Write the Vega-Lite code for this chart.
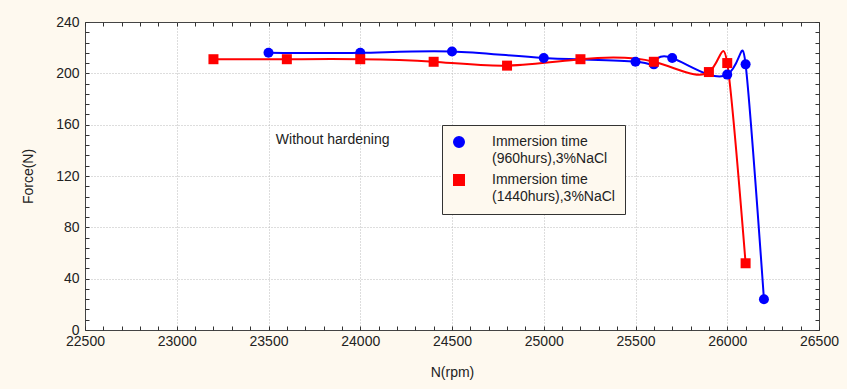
{
  "$schema": "https://vega.github.io/schema/vega-lite/v6.json",
  "width": 734,
  "height": 308,
  "autosize": {"type": "none"},
  "padding": {"left": 85, "top": 22, "right": 28, "bottom": 59},
  "background": "#FEF9EF",
  "view": {"fill": "#FFFFFF", "stroke": "#444444", "strokeWidth": 1},
  "config": {
    "font": "Liberation Sans",
    "axis": {"labelFont": "Liberation Sans", "titleFont": "Liberation Sans", "labelFontSize": 14, "titleFontSize": 14, "titleFontWeight": "normal", "labelColor": "#222222", "titleColor": "#222222", "tickColor": "#333333", "domain": false}
  },
  "data": {
    "values": [
      {"series": "Immersion time (960hurs),3%NaCl", "N": 23500, "F": 216},
      {"series": "Immersion time (960hurs),3%NaCl", "N": 24000, "F": 216},
      {"series": "Immersion time (960hurs),3%NaCl", "N": 24500, "F": 217},
      {"series": "Immersion time (960hurs),3%NaCl", "N": 25000, "F": 212},
      {"series": "Immersion time (960hurs),3%NaCl", "N": 25500, "F": 209},
      {"series": "Immersion time (960hurs),3%NaCl", "N": 25600, "F": 207},
      {"series": "Immersion time (960hurs),3%NaCl", "N": 25700, "F": 212},
      {"series": "Immersion time (960hurs),3%NaCl", "N": 26000, "F": 199},
      {"series": "Immersion time (960hurs),3%NaCl", "N": 26100, "F": 207},
      {"series": "Immersion time (960hurs),3%NaCl", "N": 26200, "F": 24},
      {"series": "Immersion time (1440hurs),3%NaCl", "N": 23200, "F": 211},
      {"series": "Immersion time (1440hurs),3%NaCl", "N": 23600, "F": 211},
      {"series": "Immersion time (1440hurs),3%NaCl", "N": 24000, "F": 211},
      {"series": "Immersion time (1440hurs),3%NaCl", "N": 24400, "F": 209},
      {"series": "Immersion time (1440hurs),3%NaCl", "N": 24800, "F": 206},
      {"series": "Immersion time (1440hurs),3%NaCl", "N": 25200, "F": 211},
      {"series": "Immersion time (1440hurs),3%NaCl", "N": 25600, "F": 209},
      {"series": "Immersion time (1440hurs),3%NaCl", "N": 25900, "F": 201},
      {"series": "Immersion time (1440hurs),3%NaCl", "N": 26000, "F": 208},
      {"series": "Immersion time (1440hurs),3%NaCl", "N": 26100, "F": 52}
    ]
  },
  "resolve": {"axis": {"x": "independent", "y": "independent"}},
  "layer": [
    {
      "mark": {"type": "line", "interpolate": "natural", "strokeWidth": 2},
      "encoding": {
        "x": {
          "field": "N", "type": "quantitative",
          "scale": {"domain": [22500, 26500], "nice": false, "zero": false},
          "axis": {
            "orient": "bottom", "title": "N(rpm)", "format": "d", "titlePadding": 17,
            "values": [22500,22600,22700,22800,22900,23000,23100,23200,23300,23400,23500,23600,23700,23800,23900,24000,24100,24200,24300,24400,24500,24600,24700,24800,24900,25000,25100,25200,25300,25400,25500,25600,25700,25800,25900,26000,26100,26200,26300,26400,26500],
            "labelExpr": "datum.value % 500 === 0 ? datum.label : ''",
            "labelFlush": false, "labelOverlap": false, "labelPadding": 8,
            "tickSize": -4,
            "grid": true, "gridDash": [1, 2],
            "gridColor": {"condition": {"test": "datum.value % 500 === 0 && datum.value > 22500 && datum.value < 26500", "value": "#BBBBBB"}, "value": "transparent"}
          }
        },
        "y": {
          "field": "F", "type": "quantitative",
          "scale": {"domain": [0, 240], "nice": false},
          "axis": {
            "orient": "left", "title": "Force(N)", "titlePadding": 20,
            "values": [0,8,16,24,32,40,48,56,64,72,80,88,96,104,112,120,128,136,144,152,160,168,176,184,192,200,208,216,224,232,240],
            "labelExpr": "datum.value % 40 === 0 ? datum.label : ''",
            "labelOverlap": false, "labelFlush": false, "labelPadding": 10,
            "tickSize": -4,
            "grid": true, "gridDash": [1, 2],
            "gridColor": {"condition": {"test": "datum.value % 40 === 0 && datum.value > 0 && datum.value < 240", "value": "#BBBBBB"}, "value": "transparent"}
          }
        },
        "color": {
          "field": "series", "type": "nominal",
          "scale": {"domain": ["Immersion time (960hurs),3%NaCl", "Immersion time (1440hurs),3%NaCl"], "range": ["#0000FF", "#FF0000"]},
          "legend": {
            "title": null, "orient": "none", "legendX": 357, "legendY": 103,
            "padding": 10, "fillColor": "#FEF9EF", "strokeColor": "#333333",
            "labelFontSize": 14, "labelFont": "Liberation Sans", "labelColor": "#222222", "labelLimit": 0,
            "labelOffset": 26, "rowPadding": 5, "symbolSize": 110,
            "labelExpr": "[slice(datum.label, 0, 14), slice(datum.label, 15)]",
            "encode": {
              "labels": {"update": {"lineHeight": {"value": 17}}}
            }
          }
        }
      }
    },
    {
      "mark": {"type": "point", "filled": true, "opacity": 1, "size": 100},
      "encoding": {
        "x": {
          "field": "N", "type": "quantitative",
          "axis": {
            "orient": "top", "title": null, "labels": false, "grid": false, "tickSize": -4,
            "values": [22500,22600,22700,22800,22900,23000,23100,23200,23300,23400,23500,23600,23700,23800,23900,24000,24100,24200,24300,24400,24500,24600,24700,24800,24900,25000,25100,25200,25300,25400,25500,25600,25700,25800,25900,26000,26100,26200,26300,26400,26500]
          }
        },
        "y": {
          "field": "F", "type": "quantitative",
          "axis": {
            "orient": "right", "title": null, "labels": false, "grid": false, "tickSize": -4,
            "values": [0,8,16,24,32,40,48,56,64,72,80,88,96,104,112,120,128,136,144,152,160,168,176,184,192,200,208,216,224,232,240]
          }
        },
        "color": {"field": "series", "type": "nominal"},
        "shape": {
          "field": "series", "type": "nominal",
          "scale": {"domain": ["Immersion time (960hurs),3%NaCl", "Immersion time (1440hurs),3%NaCl"], "range": ["circle", "square"]}
        }
      }
    },
    {
      "data": {"values": [{"note": "Without hardening"}]},
      "mark": {"type": "text", "align": "left", "baseline": "middle", "fontSize": 14, "font": "Liberation Sans", "color": "#222222"},
      "encoding": {
        "x": {"datum": 23540, "type": "quantitative", "axis": null},
        "y": {"datum": 148, "type": "quantitative", "axis": null},
        "text": {"field": "note", "type": "nominal"}
      }
    }
  ]
}
